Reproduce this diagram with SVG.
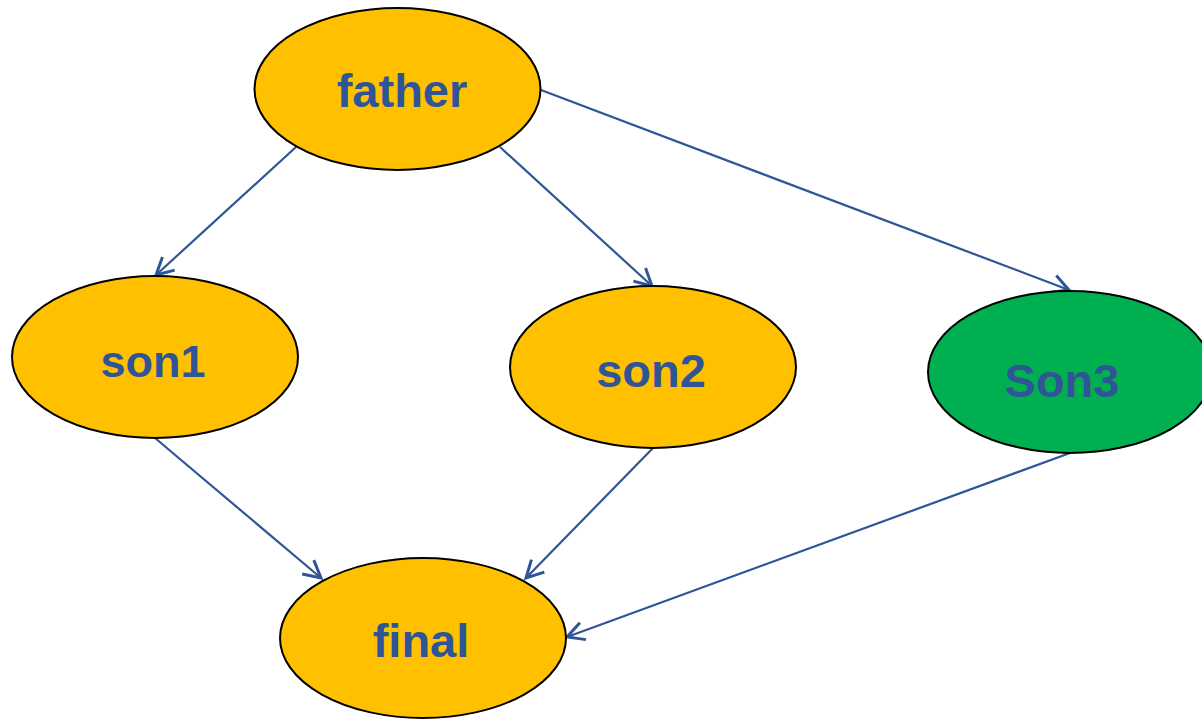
<svg xmlns="http://www.w3.org/2000/svg" width="1202" height="719" viewBox="0 0 1202 719">
<defs>
<style>
.node ellipse{stroke:#000;stroke-width:2}
.y{fill:#FFC000}
.g{fill:#00B050}
.node text{font-family:"Liberation Sans",Arial,sans-serif;font-weight:bold;fill:#2F5597;text-anchor:middle}
.edge{stroke:#2F5597;stroke-width:2.2;fill:none;marker-end:url(#arr)}
</style>
<marker id="arr" viewBox="0 0 24 24" refX="21" refY="12" markerWidth="24" markerHeight="24" markerUnits="userSpaceOnUse" orient="auto">
<polyline points="4,3 21,12 4,21" fill="none" stroke="#2F5597" stroke-width="3"/>
</marker>
</defs>
<rect width="1202" height="719" fill="#fff"/>
<g id="connectors">
<line class="edge" x1="296" y1="147" x2="156" y2="275"/>
<line class="edge" x1="500" y1="147" x2="652" y2="286"/>
<line class="edge" x1="541" y1="90" x2="1069" y2="290"/>
<line class="edge" x1="155" y1="438" x2="321" y2="578"/>
<line class="edge" x1="653" y1="448" x2="526" y2="578"/>
<line class="edge" x1="1070" y1="453" x2="567" y2="637"/>
</g>
<g id="father" class="node">
<ellipse class="y" cx="397.5" cy="89" rx="143" ry="81"/>
<text x="402" y="107" font-size="47">father</text>
</g>
<g id="son1" class="node">
<ellipse class="y" cx="155" cy="357" rx="143" ry="81"/>
<text x="153" y="377" font-size="45">son1</text>
</g>
<g id="son2" class="node">
<ellipse class="y" cx="653" cy="367" rx="143" ry="81"/>
<text x="651" y="387" font-size="47">son2</text>
</g>
<g id="Son3" class="node">
<ellipse class="g" cx="1070" cy="372" rx="142" ry="81"/>
<text x="1062" y="397" font-size="47">Son3</text>
</g>
<g id="final" class="node">
<ellipse class="y" cx="423" cy="638" rx="143" ry="80"/>
<text x="421" y="657" font-size="47">final</text>
</g>
</svg>
